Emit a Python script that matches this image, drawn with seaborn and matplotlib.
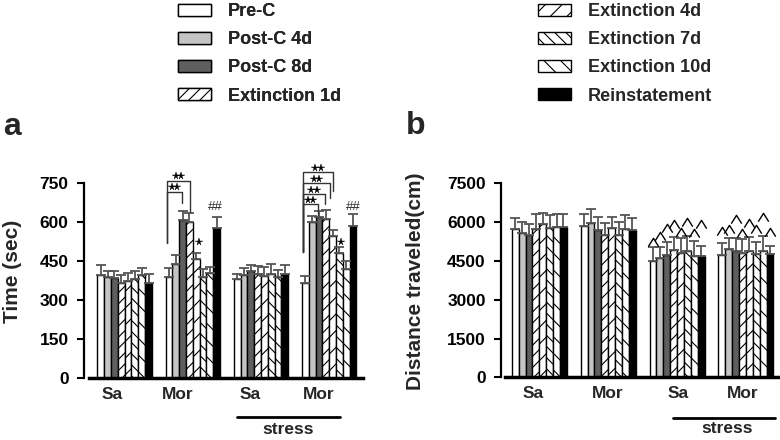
import numpy as np
import pandas as pd
import matplotlib
matplotlib.use("Agg")
import matplotlib.pyplot as plt
import matplotlib.transforms as mtransforms
from matplotlib.patches import Patch
from matplotlib.path import Path
from matplotlib.markers import MarkerStyle
import seaborn as sns

# ---------------- data ----------------
groups = ["Sa", "Mor", "Sa stress", "Mor stress"]
group_labels = ["Sa", "Mor", "Sa", "Mor"]
phases = ["Pre-C", "Post-C 4d", "Post-C 8d", "Extinction 1d",
          "Extinction 4d", "Extinction 7d", "Extinction 10d", "Reinstatement"]

# panel a : time (sec), one list per group (values in phase order)
time_sa = [398, 388, 385, 365, 375, 382, 397, 365]
time_mor = [388, 438, 609, 601, 459, 391, 404, 579]
time_sa_stress = [381, 397, 413, 401, 393, 400, 388, 401]
time_mor_stress = [365, 601, 619, 613, 547, 483, 422, 586]
time_err_sa = [38, 25, 28, 32, 31, 31, 27, 35]
time_err_mor = [35, 36, 34, 36, 22, 28, 25, 42]
time_err_sa_stress = [20, 26, 23, 31, 34, 40, 29, 35]
time_err_mor_stress = [28, 23, 26, 34, 23, 21, 29, 45]

# panel b : distance travelled (cm)
dist_sa = [5722, 5567, 5500, 5721, 5914, 5790, 5824, 5824]
dist_mor = [5848, 5978, 5690, 5500, 5760, 5500, 5745, 5700]
dist_sa_stress = [4496, 4600, 4716, 4921, 4818, 4894, 4689, 4689]
dist_mor_stress = [4716, 4948, 4894, 4793, 4894, 4766, 4894, 4766]
dist_err_sa = [424, 425, 414, 580, 452, 477, 476, 490]
dist_err_mor = [466, 529, 516, 453, 425, 491, 543, 451]
dist_err_sa_stress = [554, 450, 520, 491, 555, 568, 591, 386]
dist_err_mor_stress = [464, 425, 479, 541, 518, 476, 568, 309]

# "^" marks above stressed groups in panel b (level of each mark)
caret_sa_stress = [5230, 5450, 5783, 5926, 5628, 6017, 5565, 5913]
caret_mor_stress = [5667, 5744, 6119, 5565, 5967, 5732, 6185, 5604]

# significance brackets in panel a: (group, from hue, to hue, level, left end, right end)
brackets = [
    (1, -0.30, 1.90, 718, 520, 674),
    (1, -0.30, 3.15, 760, 520, 641),
    (3, -0.35, 1.83, 669, 487, 628),
    (3, -0.35, 2.88, 709, 487, 669),
    (3, -0.35, 3.61, 750, 487, 692),
    (3, -0.35, 4.09, 792, 487, 720),
]
# single star marks in panel a: (group, hue position, level)
single_stars = [(1, 4.35, 525), (3, 5.20, 523)]
# "##" marks in panel a: (group, hue position, level)
hash_marks = [(1, 6.75, 660), (3, 7.10, 660)]

# ---------------- styles ----------------
colors = ["white", "#c4c4c4", "#5f5f5f", "white", "white", "white", "white", "black"]
hatches = [None, None, None, "///", "//", "\\\\\\", "\\\\", None]

sns.set_style("white")
plt.rcParams["font.family"] = ["Liberation Sans", "DejaVu Sans"]
plt.rcParams["hatch.linewidth"] = 0.8
plt.rcParams["hatch.color"] = "black"


def long_frame(per_group, per_group_err):
    rows = []
    for g, vals, errs in zip(groups, per_group, per_group_err):
        for p, v, e in zip(phases, vals, errs):
            rows.append({"group": g, "phase": p, "value": v, "err": e})
    return pd.DataFrame(rows)


df_a = long_frame([time_sa, time_mor, time_sa_stress, time_mor_stress],
                  [time_err_sa, time_err_mor, time_err_sa_stress, time_err_mor_stress])
df_b = long_frame([dist_sa, dist_mor, dist_sa_stress, dist_mor_stress],
                  [dist_err_sa, dist_err_mor, dist_err_sa_stress, dist_err_mor_stress])

fig = plt.figure(figsize=(7.8, 4.4), dpi=100)
ax_a = fig.add_axes([84 / 780, 1 - 378.3 / 440, 279 / 780, 195 / 440])
ax_b = fig.add_axes([501 / 780, 1 - 377.3 / 440, 278 / 780, 194 / 440])

palette = dict(zip(phases, colors))


def draw_panel(ax, df):
    sns.barplot(data=df, x="group", y="value", hue="phase", order=groups,
                hue_order=phases, palette=palette, errorbar=None,
                edgecolor="black", linewidth=1.0, width=0.8, legend=False,
                ax=ax, saturation=1)
    centers = {}
    for h, (phase, cont) in enumerate(zip(phases, ax.containers)):
        for g, bar in enumerate(cont):
            if hatches[h]:
                bar.set_hatch(hatches[h])
            x = bar.get_x() + bar.get_width() / 2
            centers[(g, h)] = (x, bar.get_width())
            sub = df[(df["group"] == groups[g]) & (df["phase"] == phase)]
            ax.errorbar([x], [bar.get_height()],
                        yerr=[[0], [sub["err"].iloc[0]]],
                        fmt="none", ecolor="#555555", elinewidth=1.3,
                        capsize=3.5, capthick=1.3, zorder=1)
    return centers


cen_a = draw_panel(ax_a, df_a)
cen_b = draw_panel(ax_b, df_b)

for ax, ymax, step, xlo, xhi, off in [
        (ax_a, 750, 150, -0.596, 3.496, [-0.178, -0.217, -0.161, -0.149]),
        (ax_b, 7500, 1500, -0.556, 3.48, [-0.09, 0.0, 0.02, -0.04])]:
    ax.set_ylim(0, ymax)
    ax.set_xlim(xlo, xhi)
    ax.set_yticks(np.arange(0, ymax + 1, step))
    ax.set_xticks(np.arange(4) + np.array(off))
    ax.set_xticklabels(group_labels, fontsize=12.5, fontweight="bold")
    for t in ax.get_yticklabels():
        t.set_fontsize(12.5)
        t.set_fontweight("bold")
    ax.tick_params(axis="x", length=0, pad=6)
    ax.tick_params(axis="y", direction="out", length=5, width=1.5, pad=6,
                   colors="black", left=True)
    ax.set_xlabel("")
    for s in ["top", "right"]:
        ax.spines[s].set_visible(False)
    ax.spines["left"].set_linewidth(1.6)
    ax.spines["left"].set_color("black")
    ax.spines["bottom"].set_linewidth(2.5)
    ax.spines["bottom"].set_color("black")
    ax.set_facecolor("none")

ax_a.spines["bottom"].set_bounds(-0.523, 3.496)
ax_b.spines["bottom"].set_bounds(-0.498, 3.48)

ax_a.set_ylabel("Time (sec)", fontsize=15, fontweight="bold")
ax_a.yaxis.set_label_coords(-0.222, 0.547)
ax_b.set_ylabel("Distance traveled(cm)", fontsize=15, fontweight="bold")
ax_b.yaxis.set_label_coords(-0.273, 0.497)

# stress lines
for ax, x0, x1, yl, xt, yt in [(ax_a, 1.644, 3.159, -0.197, 2.396, -0.264),
                               (ax_b, 1.937, 3.422, -0.208, 2.721, -0.266)]:
    tr = mtransforms.blended_transform_factory(ax.transData, ax.transAxes)
    ax.plot([x0, x1], [yl, yl], color="black", lw=2, transform=tr, clip_on=False)
    ax.text(xt, yt, "stress", transform=tr, ha="center", va="center",
            fontsize=12.5, fontweight="bold")


def hue_x(centers, g, frac):
    x0, w = centers[(g, 0)]
    return x0 + frac * w


star_kw = dict(linestyle="none", marker="*", markersize=5.5, color="black",
               markeredgewidth=0.3, clip_on=False, zorder=4)

# brackets in panel a, each topped by a pair of stars
for g, f0, f1, lev, yl, yr in brackets:
    xa = hue_x(cen_a, g, f0)
    xb = hue_x(cen_a, g, f1)
    ax_a.plot([xa, xa, xb, xb], [yl, lev, lev, yr], color="#333333", lw=1.0,
              clip_on=False, zorder=3)
    w = cen_a[(g, 0)][1]
    xm = (xa + xb) / 2
    ax_a.plot([xm - 0.38 * w, xm + 0.38 * w], [lev + 17, lev + 17], **star_kw)

for g, f, lev in single_stars:
    ax_a.plot([hue_x(cen_a, g, f)], [lev], **star_kw)

for g, f, lev in hash_marks:
    ax_a.text(hue_x(cen_a, g, f), lev, "##", ha="center", va="center",
              fontsize=9.5, clip_on=False)

# carets in panel b
caret = MarkerStyle(Path([(-1.0, -0.8), (0.0, 0.8), (1.0, -0.8)],
                         [Path.MOVETO, Path.LINETO, Path.LINETO]))
for g, levels in [(2, caret_sa_stress), (3, caret_mor_stress)]:
    xs = [cen_b[(g, h)][0] for h in range(len(phases))]
    ax_b.plot(xs, levels, linestyle="none", marker=caret, markersize=7.5,
              markerfacecolor="none", markeredgecolor="black",
              markeredgewidth=1.0, clip_on=False)

# panel letters
fig.text(11.7 / 780, 1 - 127 / 440, "a", fontsize=23, fontweight="bold",
         ha="center", va="center")
fig.text(416 / 780, 1 - 126 / 440, "b", fontsize=23, fontweight="bold",
         ha="center", va="center")

# legends
handles = [Patch(facecolor=c, edgecolor="black", hatch=h, linewidth=1.0, label=p)
           for p, c, h in zip(phases, colors, hatches)]
leg_kw = dict(frameon=False, handlelength=1.85, handleheight=0.67,
              handletextpad=0.9, labelspacing=0.62, borderpad=0,
              borderaxespad=0, prop={"weight": "bold", "size": 13})
leg1 = fig.legend(handles=handles[:4], loc="upper left",
                  bbox_to_anchor=(178 / 780, 1 - 3 / 440), **leg_kw)
fig.add_artist(leg1)
fig.legend(handles=handles[4:], loc="upper left",
           bbox_to_anchor=(538 / 780, 1 - 3 / 440), **leg_kw)

fig.savefig("out.png", dpi=100)
